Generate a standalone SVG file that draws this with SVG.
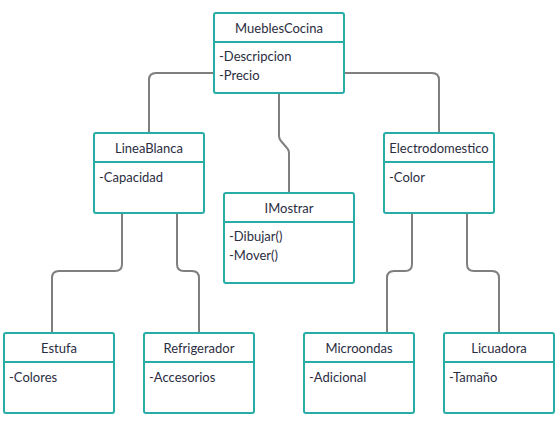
<svg xmlns="http://www.w3.org/2000/svg" width="557" height="436" viewBox="0 0 557 436">
<style>
.box{fill:#fff;stroke:#27aca6;stroke-width:2}
.div{stroke:#27aca6;stroke-width:2}
.t{font-family:Lato,"Liberation Sans",sans-serif;font-size:13px;fill:#2b2d3f;text-anchor:middle}
.a{font-family:Lato,"Liberation Sans",sans-serif;font-size:13px;fill:#2b2d3f}
.c{fill:none;stroke:#7f7f7f;stroke-width:2}
</style>
<rect width="557" height="436" fill="#fff"/>
<g id="connectors">
<path class="c" d="M214 73 H156 Q149 73 149 80 V133"/>
<path class="c" d="M344 73 H432 Q439 73 439 80 V133"/>
<path class="c" d="M279 93 V136 Q279 139 281 141 L287 148 Q289 150 289 153 V193"/>
<path class="c" d="M122 213 V264 Q122 271 115 271 H59 Q52 271 52 278 V333"/>
<path class="c" d="M177 213 V264 Q177 271 184 271 H192 Q199 271 199 278 V333"/>
<path class="c" d="M412 213 V264 Q412 271 405 271 H394 Q387 271 387 278 V333"/>
<path class="c" d="M467 213 V264 Q467 271 474 271 H492 Q499 271 499 278 V333"/>
</g>
<g id="MueblesCocina">
<rect class="box" x="214" y="13" width="130" height="80" rx="2"/>
<line class="div" x1="214" y1="42" x2="344" y2="42"/>
<text class="t" x="279" y="33">MueblesCocina</text>
<text class="a" x="219" y="61">-Descripcion</text>
<text class="a" x="219" y="80">-Precio</text>
</g>
<g id="LineaBlanca">
<rect class="box" x="94" y="133" width="110" height="80" rx="2"/>
<line class="div" x1="94" y1="162" x2="204" y2="162"/>
<text class="t" x="149" y="153">LineaBlanca</text>
<text class="a" x="99" y="182">-Capacidad</text>
</g>
<g id="Electrodomestico">
<rect class="box" x="384" y="133" width="110" height="80" rx="2"/>
<line class="div" x1="384" y1="162" x2="494" y2="162"/>
<text class="t" x="439" y="153">Electrodomestico</text>
<text class="a" x="389" y="182">-Color</text>
</g>
<g id="IMostrar">
<rect class="box" x="224" y="193" width="130" height="90" rx="2"/>
<line class="div" x1="224" y1="222" x2="354" y2="222"/>
<text class="t" x="289" y="213">IMostrar</text>
<text class="a" x="229" y="241">-Dibujar()</text>
<text class="a" x="229" y="260">-Mover()</text>
</g>
<g id="Estufa">
<rect class="box" x="4" y="333" width="110" height="80" rx="2"/>
<line class="div" x1="4" y1="362" x2="114" y2="362"/>
<text class="t" x="59" y="353">Estufa</text>
<text class="a" x="9" y="382">-Colores</text>
</g>
<g id="Refrigerador">
<rect class="box" x="144" y="333" width="110" height="80" rx="2"/>
<line class="div" x1="144" y1="362" x2="254" y2="362"/>
<text class="t" x="199" y="353">Refrigerador</text>
<text class="a" x="149" y="382">-Accesorios</text>
</g>
<g id="Microondas">
<rect class="box" x="304" y="333" width="110" height="80" rx="2"/>
<line class="div" x1="304" y1="362" x2="414" y2="362"/>
<text class="t" x="359" y="353">Microondas</text>
<text class="a" x="309" y="382">-Adicional</text>
</g>
<g id="Licuadora">
<rect class="box" x="444" y="333" width="110" height="80" rx="2"/>
<line class="div" x1="444" y1="362" x2="554" y2="362"/>
<text class="t" x="499" y="353">Licuadora</text>
<text class="a" x="449" y="382">-Tamaño</text>
</g>
</svg>
